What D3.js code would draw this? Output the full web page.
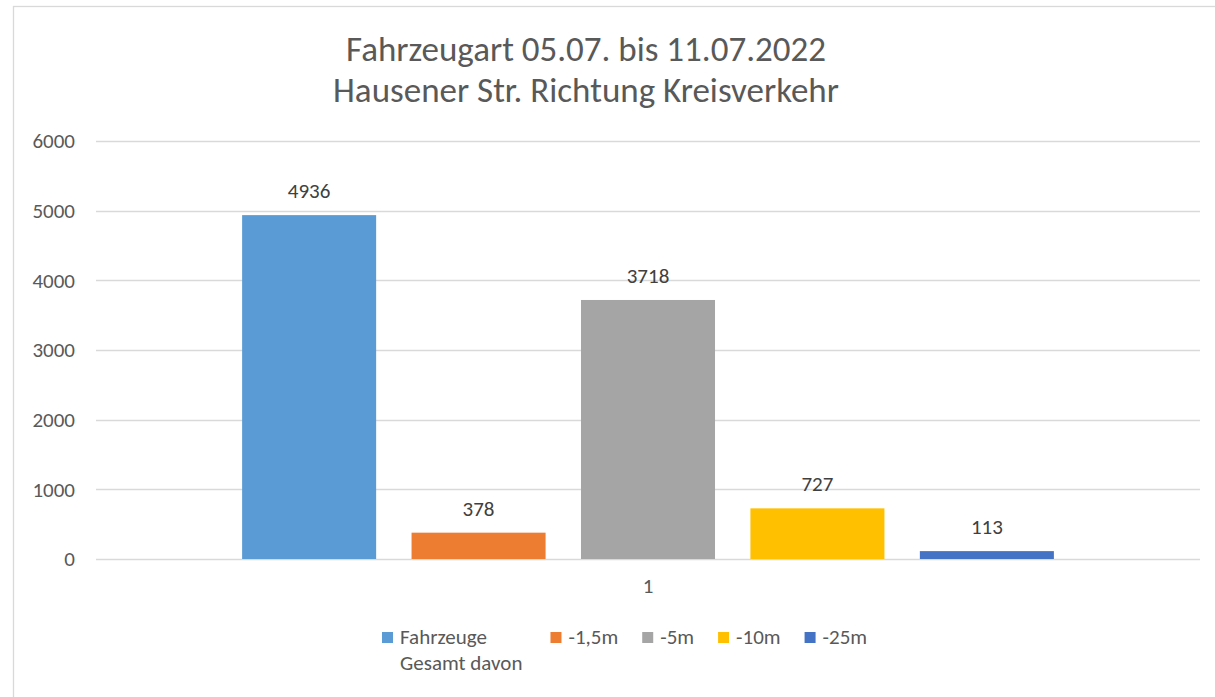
<!DOCTYPE html>
<html lang="de">
<head>
    <meta charset="UTF-8" />
    <title>Fahrzeugart 05.07. bis 11.07.2022</title>
    <script src="https://d3js.org/d3.v7.min.js"></script>
    <style>
        body { margin: 0; background: #fff; }
        svg { display: block; font-family: Carlito, 'Open Sans', sans-serif; }
        .grid line { stroke: #d9d9d9; stroke-width: 1.3px; }
        .tick-label { fill: #595959; font-size: 21px; }
        .value-label { fill: #404040; font-size: 21px; }
        .legend-text { fill: #595959; font-size: 21px; }
        .title { fill: #595959; font-size: 35px; }
    </style>
</head>
<body>
<svg id="chart"></svg>
<script>
    // Data
    const categories = ["1"];
    const seriesNames = ["Fahrzeuge Gesamt davon", "-1,5m", "-5m", "-10m", "-25m"];
    const seriesValues = [4936, 378, 3718, 727, 113];
    const seriesColors = ["#5b9bd5", "#ed7d31", "#a5a5a5", "#ffc000", "#4472c4"];
    const yTicks = [0, 1000, 2000, 3000, 4000, 5000, 6000];
    const titleLines = ["Fahrzeugart 05.07. bis 11.07.2022", "Hausener Str. Richtung Kreisverkehr"];

    const W = 1215, H = 697;
    const plot = { left: 96, right: 1200, top: 141, bottom: 559 };

    const svg = d3.select("#chart").attr("width", W).attr("height", H);

    // chart border (only left/top visible in the crop)
    svg.append("rect")
        .attr("x", 13.5).attr("y", 6.5)
        .attr("width", 1400).attr("height", 900)
        .attr("fill", "none").attr("stroke", "#d9d9d9").attr("stroke-width", 1.3);

    // title
    svg.append("text")
        .attr("class", "title")
        .attr("text-anchor", "middle")
        .selectAll("tspan")
        .data(titleLines)
        .enter()
        .append("tspan")
        .attr("x", 586)
        .attr("y", (d, i) => 61 + i * 41)
        .text(d => d);

    // scales
    const y = d3.scaleLinear().domain([0, 6000]).range([plot.bottom, plot.top]);
    const x0 = d3.scaleBand().domain(categories).range([plot.left, plot.right])
        .paddingInner(0).paddingOuter(0.18);
    const x1 = d3.scaleBand().domain(seriesNames).range([0, x0.bandwidth()])
        .paddingInner(0.209).paddingOuter(0);

    // gridlines
    svg.append("g").attr("class", "grid")
        .selectAll("line")
        .data(yTicks)
        .enter()
        .append("line")
        .attr("x1", plot.left).attr("x2", plot.right)
        .attr("y1", d => Math.round(y(d)) + 0.5)
        .attr("y2", d => Math.round(y(d)) + 0.5);

    // y axis labels
    svg.append("g")
        .selectAll("text")
        .data(yTicks)
        .enter()
        .append("text")
        .attr("class", "tick-label")
        .attr("x", 75)
        .attr("y", d => y(d))
        .attr("dy", "0.35em")
        .attr("text-anchor", "end")
        .text(d => d);

    // bars
    const group = svg.append("g")
        .attr("transform", `translate(${x0(categories[0])},0)`);

    group.selectAll("rect")
        .data(seriesValues)
        .enter()
        .append("rect")
        .attr("x", (d, i) => x1(seriesNames[i]))
        .attr("width", x1.bandwidth())
        .attr("y", d => y(d))
        .attr("height", d => y(0) - y(d))
        .attr("fill", (d, i) => seriesColors[i]);

    // value labels
    group.selectAll(".value-label")
        .data(seriesValues)
        .enter()
        .append("text")
        .attr("class", "value-label")
        .attr("x", (d, i) => x1(seriesNames[i]) + x1.bandwidth() / 2)
        .attr("y", d => y(d) - 17)
        .attr("text-anchor", "middle")
        .text(d => d);

    // category label
    svg.append("text")
        .attr("class", "tick-label")
        .attr("x", x0(categories[0]) + x0.bandwidth() / 2)
        .attr("y", 593)
        .attr("text-anchor", "middle")
        .text(categories[0]);

    // legend, laid out left to right; first entry wraps after "Fahrzeuge"
    const legend = svg.append("g");
    let lx = 382;
    seriesNames.forEach((name, i) => {
        legend.append("rect")
            .attr("x", lx).attr("y", 632)
            .attr("width", 11).attr("height", 11)
            .attr("fill", seriesColors[i]);
        const t = legend.append("text")
            .attr("class", "legend-text")
            .attr("x", lx + 18).attr("y", 644);
        const lines = i === 0 ? ["Fahrzeuge", "Gesamt davon"] : [name];
        lines.forEach((ln, j) => {
            t.append("tspan").attr("x", lx + 18).attr("y", 644 + j * 26).text(ln);
        });
        const w = t.node().getBBox().width;
        lx += 18 + w + (i === 0 ? 28 : 24);
    });
</script>
</body>
</html>
